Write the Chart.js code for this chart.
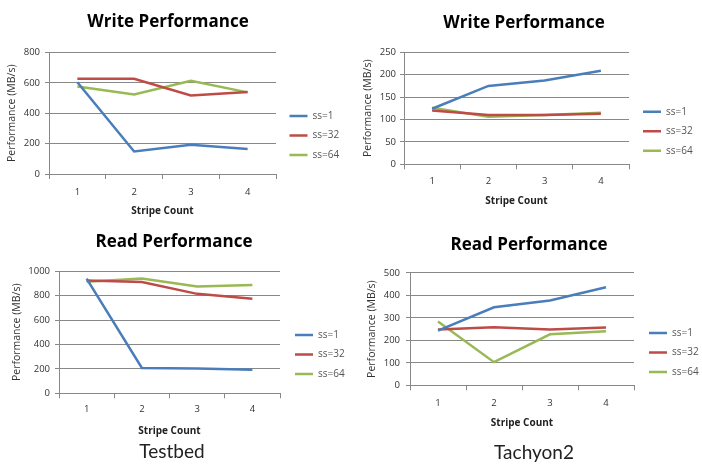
<!DOCTYPE html>
<html><head><meta charset="utf-8">
<script src="https://cdn.jsdelivr.net/npm/chart.js@4"></script>
<style>
html,body{margin:0;padding:0;background:#fff;}
#wrap{position:relative;width:702px;height:469px;overflow:hidden;background:#fff;}
canvas{position:absolute;}
.cap{position:absolute;font-family:Lato,'Open Sans',sans-serif;font-size:19px;color:#222;transform:translate(-50%,-50%);white-space:nowrap;line-height:1;}
</style></head><body>
<div id="wrap">
<canvas id="c1" width="351" height="230" style="left:0;top:0"></canvas>
<canvas id="c2" width="351" height="230" style="left:351px;top:0"></canvas>
<canvas id="c3" width="351" height="239" style="left:0;top:230px"></canvas>
<canvas id="c4" width="351" height="239" style="left:351px;top:230px"></canvas>
<div class="cap" style="left:172px;top:450px">Testbed</div>
<div class="cap" style="left:534px;top:451px">Tachyon2</div>
</div>
<script>
// ---- data ----
const categories = ['1', '2', '3', '4'];
const seriesNames = ['ss=1', 'ss=32', 'ss=64'];

const testbedWrite_ss1  = [605, 148, 192, 165];
const testbedWrite_ss32 = [628, 628, 518, 540];
const testbedWrite_ss64 = [577, 524, 615, 538];

const tachyonWrite_ss1  = [124, 175, 187, 209];
const tachyonWrite_ss32 = [120, 110, 110, 113];
const tachyonWrite_ss64 = [126, 106, 110, 115];

const testbedRead_ss1  = [940, 208, 203, 193];
const testbedRead_ss32 = [925, 912, 815, 775];
const testbedRead_ss64 = [915, 940, 875, 888];

const tachyonRead_ss1  = [243, 347, 377, 436];
const tachyonRead_ss32 = [248, 258, 248, 257];
const tachyonRead_ss64 = [284, 103, 227, 240];

const titles = ['Write Performance', 'Write Performance', 'Read Performance', 'Read Performance'];
const yMaxes = [800, 250, 1000, 500];
const ySteps = [200, 50, 200, 100];
const yAxisTitle = 'Performance (MB/s)';
const xAxisTitle = 'Stripe Count';

// ---- styling ----
const COLORS = ['#4a7ebb', '#be4b48', '#98b954'];
const GRID = '#888888';
const FONT = "'Open Sans', 'Noto Sans', sans-serif";
Chart.defaults.font.family = FONT;

const legendShift = {
  id: 'legendShift',
  afterLayout(chart, args, opts) {
    const lg = chart.legend;
    if (lg) {
      lg.left += opts.dx || 0;
      lg.top += opts.dy || 0;
      lg.right = chart.width;
      lg.bottom = chart.height;
    }
  }
};

const layouts = [
  {pl:0,  pr:15, yW:49, yTitlePad:6, yTickPad:5, legW:60, tPadT:12.1, tPadB:20.1, xH:56,   xTickPad:8,   xTitlePadB:13,   dx:4,   dy:101.5},
  {pl:10, pr:15, yW:43, yTitlePad:1, yTickPad:4, legW:58, tPadT:13.1, tPadB:18.8, xH:65.7, xTickPad:6.7, xTitlePadB:23,   dx:4.5, dy:97.2},
  {pl:10, pr:13, yW:49, yTitlePad:1, yTickPad:5, legW:58, tPadT:2.1,  tPadB:18.8, xH:75.7, xTickPad:5.7, xTitlePadB:32,   dx:5.5, dy:90.5},
  {pl:15, pr:10, yW:44, yTitlePad:0, yTickPad:6, legW:58, tPadT:5.1,  tPadB:17.4, xH:83.7, xTickPad:7,   xTitlePadB:40.3, dx:5.5, dy:88.5}
];

const seriesSets = [
  [testbedWrite_ss1, testbedWrite_ss32, testbedWrite_ss64],
  [tachyonWrite_ss1, tachyonWrite_ss32, tachyonWrite_ss64],
  [testbedRead_ss1, testbedRead_ss32, testbedRead_ss64],
  [tachyonRead_ss1, tachyonRead_ss32, tachyonRead_ss64]
];

function build(idx) {
  const L = layouts[idx];
  const ctx = document.getElementById('c' + (idx + 1));
  new Chart(ctx, {
    type: 'line',
    data: {
      labels: categories,
      datasets: seriesSets[idx].map((vals, i) => ({
        label: seriesNames[i],
        data: vals,
        borderColor: COLORS[i],
        backgroundColor: COLORS[i],
        borderWidth: 2.5,
        pointRadius: 0,
        pointHoverRadius: 0,
        tension: 0,
        fill: false
      }))
    },
    options: {
      responsive: false,
      animation: false,
      events: [],
      layout: {padding: {left: L.pl, right: L.pr, top: 0, bottom: 0}},
      plugins: {
        title: {
          display: true, text: titles[idx], color: '#000',
          font: {size: 17, weight: 'bold'},
          padding: {top: L.tPadT, bottom: L.tPadB}
        },
        legend: {
          position: 'right', align: 'start', maxWidth: L.legW,
          labels: {
            usePointStyle: true, pointStyle: 'line', pointStyleWidth: 18,
            padding: 9.5, color: '#555', font: {size: 10}
          }
        },
        tooltip: {enabled: false},
        legendShift: {dx: L.dx, dy: L.dy}
      },
      scales: {
        x: {
          offset: true,
          grid: {display: true, drawOnChartArea: false, offset: true, tickLength: 5, color: GRID},
          border: {color: GRID},
          ticks: {padding: L.xTickPad, color: '#333', font: {size: 9.5}, maxRotation: 0},
          title: {display: true, text: xAxisTitle, color: '#222', font: {size: 10, weight: 'bold'}, padding: {top: 0, bottom: L.xTitlePadB}},
          afterFit: s => { s.height = L.xH; }
        },
        y: {
          min: 0, max: yMaxes[idx],
          grid: {color: GRID, tickLength: 4},
          border: {color: GRID},
          ticks: {stepSize: ySteps[idx], padding: L.yTickPad, color: '#333', font: {size: 9.5},
                  callback: v => String(v)},
          title: {display: true, text: yAxisTitle, color: '#333', font: {size: 10.5}, padding: {top: L.yTitlePad, bottom: 0}},
          afterFit: s => { s.width = L.yW; }
        }
      }
    },
    plugins: [legendShift]
  });
}
[0, 1, 2, 3].forEach(build);
</script>
</body></html>
